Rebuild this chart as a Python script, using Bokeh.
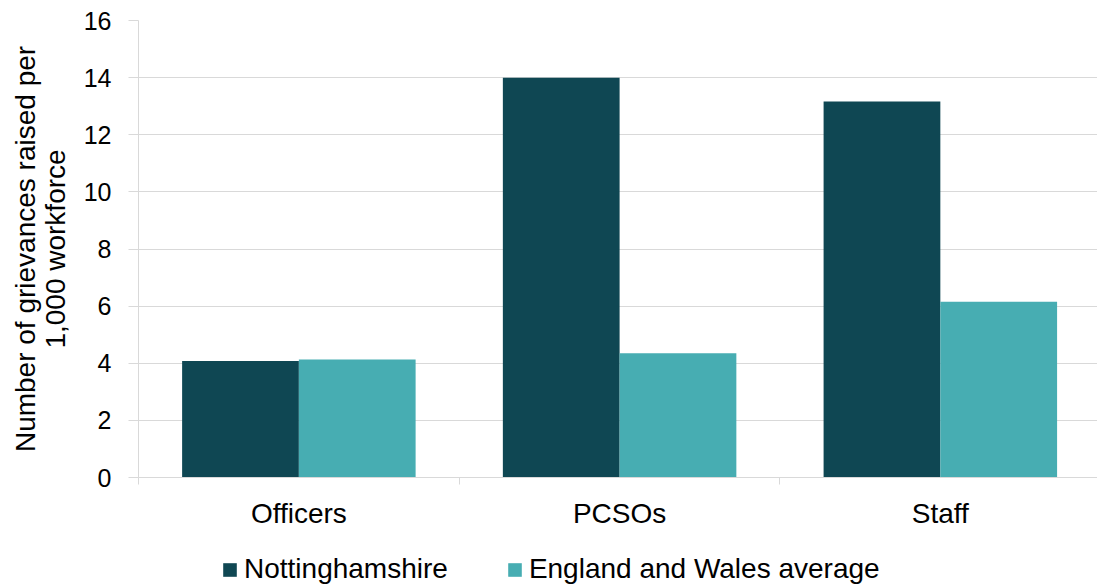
import numpy as np
from bokeh.plotting import figure
from bokeh.layouts import column
from bokeh.models import (ColumnDataSource, Range1d, FixedTicker, Legend, LegendItem)
from bokeh.embed import file_html
from bokeh.resources import INLINE

categories = ["Officers", "PCSOs", "Staff"]
nottinghamshire = [4.08, 14.0, 13.16]
england_wales = [4.13, 4.35, 6.15]
y_ticks = [0, 2, 4, 6, 8, 10, 12, 14, 16]
series_names = ["Nottinghamshire", "England and Wales average"]

FONT = "Liberation Sans"
DARK = "#0F4753"
TEAL = "#47ADB2"
GRID = "#D9D9D9"

centers = np.arange(len(categories)) + 0.5
bar_w = 0.364

src = ColumnDataSource(dict(
    x_n=centers - bar_w / 2,
    x_e=centers + bar_w / 2,
    notts=nottinghamshire,
    ew=england_wales,
))

p = figure(width=1097, height=552, output_backend="svg", toolbar_location=None,
           x_range=Range1d(0, 2.99), y_range=Range1d(0, 16),
           min_border_left=138, min_border_right=0, min_border_top=20,
           min_border_bottom=75)
p.outline_line_color = None
p.background_fill_color = "white"
p.border_fill_color = "white"

p.vbar(x="x_n", top="notts", width=bar_w, source=src, fill_color=DARK, line_color=None)
p.vbar(x="x_e", top="ew", width=bar_w, source=src, fill_color=TEAL, line_color=None)

# y axis
p.yaxis.ticker = FixedTicker(ticks=y_ticks)
p.yaxis.axis_line_color = GRID
p.yaxis.major_tick_line_color = GRID
p.yaxis.major_tick_out = 10
p.yaxis.major_tick_in = 0
p.yaxis.minor_tick_line_color = None
p.yaxis.major_label_text_font = FONT
p.yaxis.major_label_text_font_size = "25px"
p.yaxis.major_label_text_color = "#000000"
p.yaxis.major_label_standoff = 17
p.yaxis.axis_label = "Number of grievances raised per\n1,000 workforce"
p.yaxis.axis_label_text_font = FONT
p.yaxis.axis_label_text_font_size = "28px"
p.yaxis.axis_label_text_line_height = 0.95
p.yaxis.axis_label_text_font_style = "normal"
p.yaxis.axis_label_text_color = "#000000"
p.yaxis.axis_label_standoff = 10

# x axis
p.xaxis.ticker = FixedTicker(ticks=list(centers), minor_ticks=list(np.arange(len(categories) + 1)))
p.xaxis.major_label_overrides = {float(c): name for c, name in zip(centers, categories)}
p.xaxis.axis_line_color = GRID
p.xaxis.major_tick_line_color = None
p.xaxis.major_tick_out = 0
p.xaxis.major_tick_in = 0
p.xaxis.minor_tick_line_color = GRID
p.xaxis.minor_tick_out = 7
p.xaxis.minor_tick_in = 0
p.xaxis.major_label_text_font = FONT
p.xaxis.major_label_text_font_size = "28px"
p.xaxis.major_label_text_color = "#000000"
p.xaxis.major_label_standoff = 13

p.xgrid.grid_line_color = None
p.ygrid.ticker = FixedTicker(ticks=y_ticks)
p.ygrid.grid_line_color = GRID
p.ygrid.grid_line_width = 1

# legend strip (its frame is aligned with the main plot's frame by the column)
lf = figure(width=1097, height=33, output_backend="svg", toolbar_location=None,
            x_range=Range1d(0, 1), y_range=Range1d(0, 1),
            min_border=0, x_axis_location=None, y_axis_location=None)
lf.outline_line_color = None
lf.xgrid.grid_line_color = None
lf.ygrid.grid_line_color = None
hidden = ColumnDataSource(dict(x=[-5], top=[-5]))
l1 = lf.vbar(x="x", top="top", width=0.1, source=hidden, fill_color=DARK, line_color=None)
l2 = lf.vbar(x="x", top="top", width=0.1, source=hidden, fill_color=TEAL, line_color=None)
legend = Legend(items=[LegendItem(label=series_names[0], renderers=[l1]),
                       LegendItem(label=series_names[1], renderers=[l2])],
                orientation="horizontal", location=(83, 0),
                label_text_font=FONT, label_text_font_size="28px",
                label_text_color="#000000",
                glyph_width=17, glyph_height=17, label_standoff=6, spacing=58,
                padding=0, margin=0, border_line_color=None,
                background_fill_alpha=0)
lf.add_layout(legend, "center")

layout = column(p, lf, spacing=0)
open("out.html", "w").write(file_html(layout, INLINE))
